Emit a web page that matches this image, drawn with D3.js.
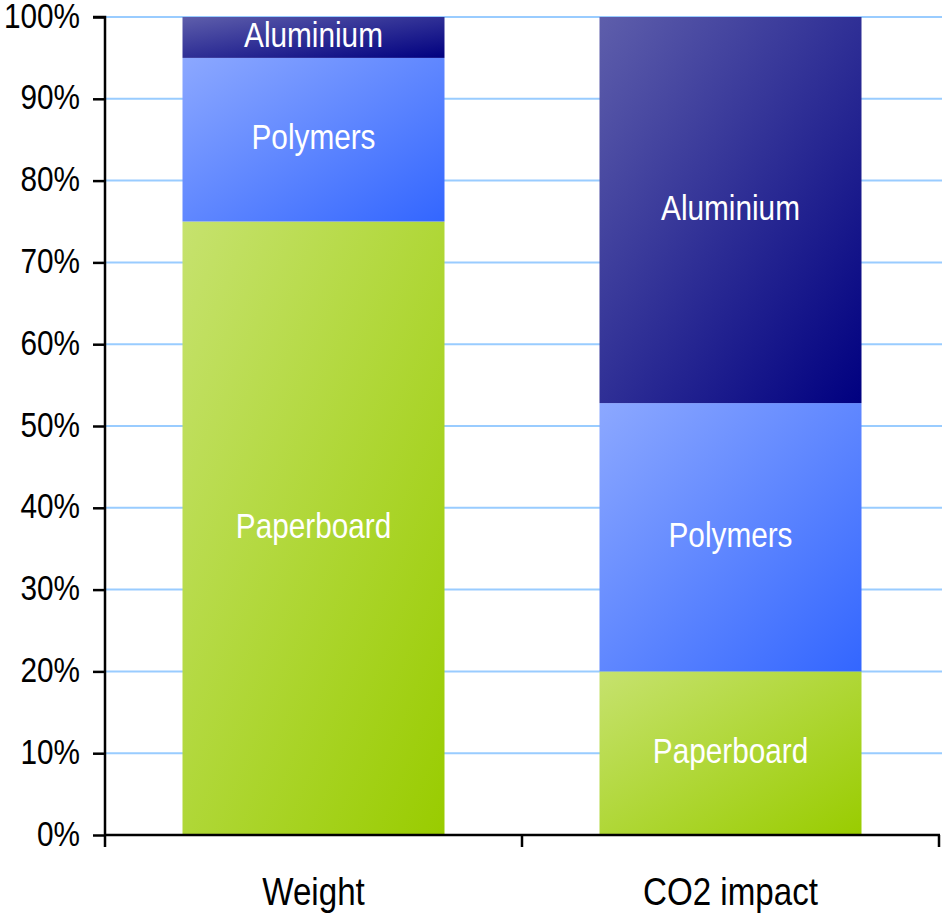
<!DOCTYPE html>
<html><head><meta charset="utf-8">
<script src="https://cdn.jsdelivr.net/npm/d3@7"></script>
<style>body{margin:0;background:#fff}svg{display:block}</style>
</head><body>
<svg id="c" width="942" height="916"></svg>
<script>
const categories = ["Weight", "CO2 impact"];
const materials = ["Paperboard", "Polymers", "Aluminium"];
const paperboard = [75, 20];
const polymers = [20, 32.8];
const aluminium = [5, 47.2];
const yTicks = [0,10,20,30,40,50,60,70,80,90,100];

const colors = {
  Paperboard: ["#c6e26e", "#99cc00"],
  Polymers: ["#8ca8ff", "#3366ff"],
  Aluminium: ["#5e5eab", "#000080"]
};

const svg = d3.select("#c");
const font = "'Liberation Sans', Arial, sans-serif";
const SX = 0.85;
const m = {l:105, r:939, t:17, b:835};

const x = d3.scaleBand().domain(categories).range([m.l, m.r]).paddingInner(0).paddingOuter(0);
const y = d3.scaleLinear().domain([0,100]).range([m.b, m.t]);

const defs = svg.append("defs");
materials.forEach(k => {
  const g = defs.append("linearGradient").attr("id","g-"+k)
    .attr("x1","0").attr("y1","0").attr("x2","1").attr("y2","1");
  g.append("stop").attr("offset","0%").attr("stop-color", colors[k][0]);
  g.append("stop").attr("offset","100%").attr("stop-color", colors[k][1]);
});

// gridlines
svg.append("g").selectAll("line").data(yTicks.filter(d=>d>0)).join("line")
  .attr("x1", m.l).attr("x2", 942)
  .attr("y1", d=>y(d)).attr("y2", d=>y(d))
  .attr("stroke", "#99ccff").attr("stroke-width", 2);

const data = categories.map((c,i)=>({cat:c, Paperboard:paperboard[i], Polymers:polymers[i], Aluminium:aluminium[i]}));
const stack = d3.stack().keys(materials)(data);

const barW = 262;
const layer = svg.append("g");
stack.forEach(s => {
  s.forEach(d => {
    const cx = x(d.data.cat) + x.bandwidth()/2;
    layer.append("rect")
      .attr("x", cx - barW/2).attr("width", barW)
      .attr("y", y(d[1])).attr("height", y(d[0]) - y(d[1]))
      .attr("fill", "url(#g-"+s.key+")");
    const cy = (y(d[0])+y(d[1]))/2;
    layer.append("text")
      .attr("transform", `translate(${cx},${cy+9.5}) scale(${SX},1)`)
      .attr("text-anchor","middle")
      .attr("fill","#fff").attr("font-family",font).attr("font-size",35)
      .text(s.key);
  });
});

// y axis
const ya = svg.append("g").attr("transform",`translate(${m.l},0)`)
  .call(d3.axisLeft(y).tickValues(yTicks).tickFormat(d=>d+"%").tickSize(12).tickPadding(13));
ya.select(".domain").attr("stroke","#000").attr("stroke-width",2.5).attr("d",`M-12,${m.t}H0V${m.b+12}`);
ya.selectAll(".tick line").attr("stroke","#000").attr("stroke-width",2.5);
ya.selectAll("text")
  .attr("x", null).attr("dy", null)
  .attr("transform", `translate(-25,10) scale(${SX},1)`)
  .attr("font-family",font).attr("font-size",35).attr("fill","#000");

// x axis
const xa = svg.append("g").attr("transform",`translate(0,${m.b})`);
xa.append("line").attr("x1",m.l).attr("x2",m.r+1).attr("y1",0).attr("y2",0).attr("stroke","#000").attr("stroke-width",2.5);
const bounds = categories.map(c=>x(c)+x.bandwidth());
xa.selectAll("line.t").data(bounds).join("line").attr("class","t")
  .attr("x1",d=>d).attr("x2",d=>d).attr("y1",0).attr("y2",12).attr("stroke","#000").attr("stroke-width",2.5);
xa.selectAll("text").data(categories).join("text")
  .attr("transform",d=>`translate(${x(d)+x.bandwidth()/2},70) scale(${SX},1)`)
  .attr("text-anchor","middle").attr("font-family",font).attr("font-size",39).attr("fill","#000")
  .text(d=>d);
</script>
</body></html>
